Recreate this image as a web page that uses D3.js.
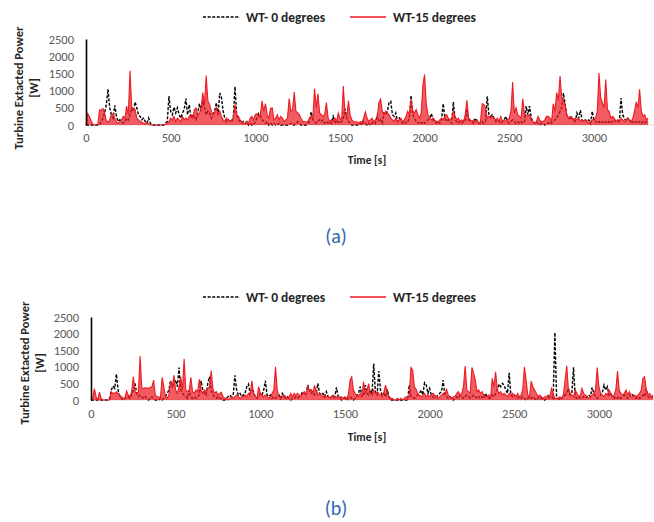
<!DOCTYPE html>
<html>
<head>
<meta charset="utf-8">
<script src="https://cdn.jsdelivr.net/npm/d3@7/dist/d3.min.js"></script>
<style>
  html, body { margin: 0; padding: 0; background: #fff; }
  svg { display: block; }
  text { font-family: Carlito, Lato, "Liberation Sans", sans-serif; }
</style>
</head>
<body>
<script>
// Sampling interval of the power records, seconds
const timeStep = 10;

// Axis ticks
const xTicks = [0, 500, 1000, 1500, 2000, 2500, 3000];
const yTicks = [0, 500, 1000, 1500, 2000, 2500];

// Series names
const seriesNames = ["WT- 0 degrees", "WT-15 degrees"];
const panelLabels = ["(a)", "(b)"];

// Panel (a): extracted power [W], one value every 10 s
const powerA0 = [
  0, 0, 0, 0, 0, 0, 0, 0, 0, 100,
  200, 350, 600, 1040, 500, 300, 200, 570, 250, 100,
  150, 100, 50, 100, 200, 150, 300, 500, 400, 670,
  500, 300, 250, 150, 200, 100, 50, 200, 50, 0,
  0, 0, 0, 0, 0, 0, 0, 50, 100, 840,
  400, 300, 520, 350, 500, 300, 200, 350, 450, 770,
  300, 590, 200, 300, 250, 150, 350, 620, 400, 700,
  500, 300, 400, 350, 200, 300, 400, 650, 300, 930,
  800, 400, 200, 100, 150, 100, 100, 200, 1115, 300,
  150, 100, 50, 100, 50, 100, 0, 50, 0, 0,
  100, 200, 330, 250, 150, 100, 50, 100, 0, 50,
  0, 50, 0, 0, 50, 0, 0, 0, 0, 0,
  0, 50, 0, 0, 50, 100, 50, 0, 0, 0,
  0, 50, 100, 380, 150, 100, 50, 100, 150, 100,
  150, 50, 100, 50, 100, 50, 250, 100, 50, 100,
  50, 100, 200, 475, 200, 100, 50, 0, 0, 0,
  0, 0, 50, 0, 100, 50, 0, 50, 0, 50,
  100, 50, 300, 100, 150, 50, 350, 300, 400, 650,
  690, 300, 250, 350, 100, 200, 100, 50, 100, 50,
  100, 200, 860, 300, 200, 100, 50, 100, 50, 100,
  50, 100, 150, 200, 330, 150, 100, 50, 100, 50,
  150, 620, 200, 100, 150, 100, 50, 670, 150, 100,
  50, 100, 50, 100, 100, 475, 150, 100, 100, 50,
  200, 100, 50, 50, 100, 50, 100, 834, 300, 250,
  300, 200, 100, 150, 100, 50, 100, 150, 250, 100,
  50, 100, 150, 100, 50, 100, 50, 100, 50, 100,
  550, 300, 550, 200, 100, 50, 100, 50, 0, 50,
  50, 0, 50, 50, 100, 50, 100, 150, 200, 300,
  400, 500, 930, 600, 250, 200, 150, 250, 100, 100,
  350, 200, 430, 150, 100, 150, 100, 150, 50, 400,
  150, 100, 50, 100, 50, 100, 50, 100, 50, 100,
  50, 100, 150, 100, 150, 50, 786, 300, 200, 100,
  200, 150, 50, 100, 50, 100, 50, 100, 50, 100,
  50, 100, 50
];
const powerA15 = [
  0, 330, 250, 120, 30, 0, 0, 20, 440, 430,
  480, 350, 120, 80, 150, 300, 330, 200, 80, 60,
  100, 150, 250, 200, 550, 300, 1580, 500, 480, 450,
  200, 150, 100, 80, 50, 30, 80, 30, 0, 0,
  0, 0, 0, 0, 0, 0, 0, 20, 50, 100,
  200, 150, 250, 100, 200, 150, 100, 250, 150, 200,
  150, 250, 300, 200, 450, 500, 250, 350, 500, 940,
  600, 1440, 700, 600, 400, 300, 350, 500, 300, 400,
  250, 150, 100, 200, 150, 100, 150, 200, 590, 300,
  250, 150, 100, 50, 30, 100, 50, 200, 250, 150,
  300, 330, 250, 300, 700, 400, 620, 300, 200, 490,
  500, 150, 200, 300, 150, 250, 200, 100, 150, 200,
  770, 400, 450, 960, 400, 350, 300, 200, 100, 100,
  80, 100, 200, 250, 200, 1060, 500, 910, 350, 300,
  250, 300, 650, 200, 100, 150, 100, 200, 100, 350,
  200, 150, 1130, 300, 200, 700, 300, 150, 100, 80,
  100, 50, 100, 80, 200, 380, 200, 100, 150, 200,
  100, 150, 200, 650, 750, 400, 300, 400, 350, 300,
  200, 150, 100, 200, 100, 150, 200, 100, 150, 250,
  400, 300, 750, 400, 350, 450, 300, 200, 350, 1170,
  1470, 600, 300, 200, 150, 200, 150, 100, 100, 150,
  200, 150, 250, 300, 200, 150, 200, 400, 250, 150,
  200, 100, 150, 100, 300, 720, 200, 150, 100, 150,
  100, 150, 50, 100, 620, 600, 500, 200, 250, 200,
  250, 200, 150, 200, 100, 250, 100, 150, 100, 150,
  200, 400, 1250, 350, 500, 300, 250, 200, 770, 300,
  300, 250, 300, 150, 100, 50, 100, 250, 150, 100,
  100, 150, 250, 250, 200, 100, 620, 400, 940, 720,
  1425, 800, 700, 600, 300, 200, 250, 200, 150, 200,
  150, 200, 100, 150, 100, 150, 100, 50, 100, 150,
  150, 200, 400, 1510, 800, 650, 500, 1320, 450, 400,
  200, 250, 200, 100, 150, 100, 200, 150, 100, 150,
  200, 150, 100, 200, 400, 670, 500, 1040, 400, 250,
  300, 150, 200
];

// Panel (b): extracted power [W], one value every 10 s
const powerB0 = [
  0, 0, 0, 0, 0, 0, 0, 0, 0, 0,
  0, 50, 300, 420, 350, 780, 300, 100, 50, 0,
  50, 100, 100, 50, 150, 300, 500, 200, 100, 150,
  100, 50, 100, 50, 0, 50, 100, 50, 0, 0,
  0, 50, 0, 50, 100, 200, 300, 580, 400, 500,
  600, 400, 975, 300, 200, 150, 100, 50, 300, 100,
  50, 100, 50, 100, 150, 580, 300, 200, 150, 500,
  700, 300, 150, 100, 50, 100, 50, 50, 0, 0,
  50, 100, 150, 100, 150, 740, 300, 150, 200, 100,
  150, 200, 400, 480, 200, 300, 250, 100, 50, 100,
  200, 150, 300, 580, 150, 100, 150, 50, 100, 50,
  100, 150, 50, 200, 100, 50, 100, 50, 0, 50,
  50, 100, 50, 100, 150, 250, 200, 150, 450, 300,
  200, 250, 150, 200, 500, 200, 150, 200, 100, 250,
  100, 50, 100, 50, 100, 380, 100, 50, 0, 50,
  50, 0, 50, 100, 50, 0, 50, 100, 200, 400,
  100, 150, 450, 200, 150, 300, 200, 1100, 200, 150,
  870, 300, 150, 200, 100, 320, 100, 0, 0, 0,
  0, 0, 0, 0, 0, 0, 0, 0, 450, 100,
  100, 50, 100, 150, 200, 300, 150, 520, 450, 200,
  350, 150, 100, 50, 100, 150, 200, 250, 600, 150,
  100, 50, 100, 50, 0, 50, 100, 50, 150, 100,
  50, 100, 150, 100, 50, 100, 150, 100, 50, 100,
  50, 100, 50, 200, 100, 50, 100, 150, 100, 200,
  300, 480, 400, 500, 450, 300, 200, 820, 150, 100,
  150, 100, 50, 100, 50, 100, 50, 0, 50, 100,
  50, 100, 50, 0, 50, 100, 50, 0, 0, 50,
  50, 100, 100, 50, 2030, 100, 50, 0, 50, 100,
  150, 200, 350, 150, 200, 985, 100, 50, 100, 50,
  50, 100, 50, 100, 150, 100, 380, 200, 100, 50,
  100, 150, 200, 450, 300, 400, 150, 200, 100, 50,
  100, 50, 100, 50, 100, 150, 100, 50, 100, 200,
  150, 100, 50, 100, 50, 100, 150, 100, 330, 100,
  50, 100, 50
];
const powerB15 = [
  0, 50, 340, 100, 0, 240, 50, 0, 0, 0,
  0, 0, 250, 200, 200, 250, 200, 150, 100, 50,
  50, 270, 150, 100, 250, 700, 250, 200, 250, 1325,
  360, 350, 370, 360, 350, 380, 400, 600, 150, 100,
  100, 50, 680, 400, 100, 50, 150, 580, 400, 740,
  300, 200, 400, 700, 300, 1245, 300, 250, 300, 680,
  250, 200, 300, 250, 620, 300, 200, 300, 250, 350,
  400, 880, 350, 200, 250, 150, 200, 230, 100, 50,
  50, 0, 50, 100, 50, 100, 150, 100, 50, 100,
  100, 150, 100, 200, 150, 580, 200, 100, 50, 400,
  200, 150, 100, 150, 100, 50, 100, 200, 300, 1000,
  300, 100, 50, 100, 150, 100, 50, 100, 200, 100,
  200, 150, 200, 150, 100, 200, 250, 150, 400, 300,
  320, 200, 420, 300, 150, 200, 150, 100, 150, 100,
  100, 50, 100, 150, 50, 100, 50, 100, 100, 50,
  100, 50, 150, 600, 700, 300, 200, 150, 100, 200,
  150, 550, 200, 300, 490, 200, 150, 300, 200, 250,
  200, 150, 100, 250, 450, 200, 100, 50, 50, 0,
  0, 50, 0, 50, 0, 50, 100, 50, 150, 980,
  900, 400, 320, 200, 150, 100, 150, 200, 100, 150,
  100, 150, 200, 150, 100, 50, 100, 150, 200, 150,
  320, 150, 100, 50, 100, 100, 200, 250, 150, 200,
  400, 1020, 300, 250, 200, 980, 800, 600, 250, 300,
  200, 250, 150, 100, 100, 150, 50, 650, 400, 850,
  300, 200, 250, 150, 200, 150, 100, 200, 150, 200,
  150, 100, 200, 100, 150, 300, 1000, 600, 150, 100,
  570, 400, 300, 200, 100, 150, 100, 50, 100, 100,
  150, 100, 350, 200, 50, 50, 50, 100, 50, 150,
  580, 1030, 300, 200, 150, 100, 300, 200, 100, 150,
  350, 200, 150, 100, 50, 100, 150, 200, 300, 980,
  400, 200, 150, 100, 200, 150, 300, 200, 100, 150,
  300, 870, 300, 200, 150, 200, 300, 150, 250, 100,
  100, 150, 100, 150, 200, 300, 650, 700, 300, 150,
  200, 100, 150
];

const W = 654, H = 522;
const svg = d3.select("body").append("svg")
  .attr("width", W).attr("height", H)
  .attr("viewBox", `0 0 ${W} ${H}`);

const colorBlack = "#000000";
const colorRed = "#ec1c24";
const tickColor = "#595959";

// Layout of the two stacked panels
const panels = [
  { series: [powerA0, powerA15], label: panelLabels[0],
    x0: 86, y0: 125, yTop: 39, legendY: 17, tickY: 140, xTitleY: 164,
    yTitleX: 23, yTitleY: 88, captionY: 243 },
  { series: [powerB0, powerB15], label: panelLabels[1],
    x0: 91, y0: 400, yTop: 317, legendY: 297, tickY: 416, xTitleY: 441,
    yTitleX: 29, yTitleY: 363, captionY: 515 }
];

panels.forEach(p => {
  const g = svg.append("g");
  // Horizontal axis spans 0–3500 s; the last part runs past the right edge
  const x = d3.scaleLinear().domain([0, 3500]).range([p.x0, p.x0 + 3500 * 0.1693]);
  const y = d3.scaleLinear().domain([0, 2500]).range([p.y0, p.yTop]);

  // Baseline (horizontal axis line)
  g.append("line")
    .attr("x1", p.x0).attr("x2", W)
    .attr("y1", p.y0).attr("y2", p.y0)
    .attr("stroke", "#d9d9d9").attr("stroke-width", 1);

  const toPts = arr => arr.map((v, i) => ({ t: i * timeStep, v }));
  const pts0 = toPts(p.series[0]);
  const pts15 = toPts(p.series[1]);

  // WT- 0 degrees: black dashed line
  g.append("path")
    .datum(pts0)
    .attr("fill", "none")
    .attr("stroke", colorBlack)
    .attr("stroke-width", 1.4)
    .attr("stroke-dasharray", "3,1.6")
    .attr("d", d3.line().x(d => x(d.t)).y(d => y(d.v)));

  // WT-15 degrees: dense red trace
  g.append("path")
    .datum(pts15)
    .attr("fill", colorRed)
    .attr("fill-opacity", 0.72)
    .attr("stroke", "none")
    .attr("d", d3.area().x(d => x(d.t)).y0(y(0)).y1(d => y(d.v)));
  g.append("path")
    .datum(pts15)
    .attr("fill", "none")
    .attr("stroke", colorRed)
    .attr("stroke-width", 1.1)
    .attr("d", d3.line().x(d => x(d.t)).y(d => y(d.v)));

  // Vertical axis
  const yAxis = d3.axisLeft(y).tickValues(yTicks).tickFormat(d3.format("d"))
    .tickSize(0).tickPadding(12);
  const ya = g.append("g").attr("transform", `translate(${p.x0},0)`).call(yAxis);
  ya.select(".domain").attr("stroke", colorBlack).attr("stroke-width", 1.6);
  ya.selectAll("text").attr("fill", tickColor).style("font-size", "12.5px")
    .style("font-family", "Carlito, Lato, sans-serif");

  // Horizontal axis tick labels
  const xAxis = d3.axisBottom(x).tickValues(xTicks).tickFormat(d3.format("d"))
    .tickSize(0).tickPadding(0);
  const xa = g.append("g").attr("transform", `translate(0,${p.tickY - 7})`).call(xAxis);
  xa.select(".domain").remove();
  xa.selectAll("text").attr("fill", tickColor).style("font-size", "12.5px")
    .style("font-family", "Carlito, Lato, sans-serif");

  // Axis titles
  g.append("text")
    .attr("x", 367).attr("y", p.xTitleY)
    .attr("text-anchor", "middle")
    .style("font-size", "11.5px").style("font-weight", "bold").attr("fill", "#262626")
    .text("Time [s]");
  const yt = g.append("text")
    .attr("transform", `translate(${p.yTitleX},${p.yTitleY}) rotate(-90)`)
    .attr("text-anchor", "middle")
    .style("font-size", "12.5px").style("font-weight", "bold").attr("fill", "#262626");
  yt.append("tspan").attr("x", 0).attr("dy", 0).text("Turbine Extacted Power");
  yt.append("tspan").attr("x", 0).attr("dy", 15).text("[W]");

  // Legend
  const lg = g.append("g").attr("transform", `translate(0,${p.legendY})`);
  lg.append("line").attr("x1", 203).attr("x2", 240).attr("y1", 0).attr("y2", 0)
    .attr("stroke", colorBlack).attr("stroke-width", 1.4).attr("stroke-dasharray", "3,1.6");
  lg.append("text").attr("x", 246).attr("y", 4.5).text(seriesNames[0])
    .style("font-size", "13.5px").style("font-weight", "bold").attr("fill", "#262626");
  lg.append("line").attr("x1", 350).attr("x2", 386).attr("y1", 0).attr("y2", 0)
    .attr("stroke", colorRed).attr("stroke-width", 1.6);
  lg.append("text").attr("x", 393).attr("y", 4.5).text(seriesNames[1])
    .style("font-size", "13.5px").style("font-weight", "bold").attr("fill", "#262626");

  // Panel caption
  svg.append("text")
    .attr("x", 336).attr("y", p.captionY)
    .attr("text-anchor", "middle")
    .style("font-size", "20px").attr("fill", "#3465b0")
    .text(p.label);
});
</script>
</body>
</html>
